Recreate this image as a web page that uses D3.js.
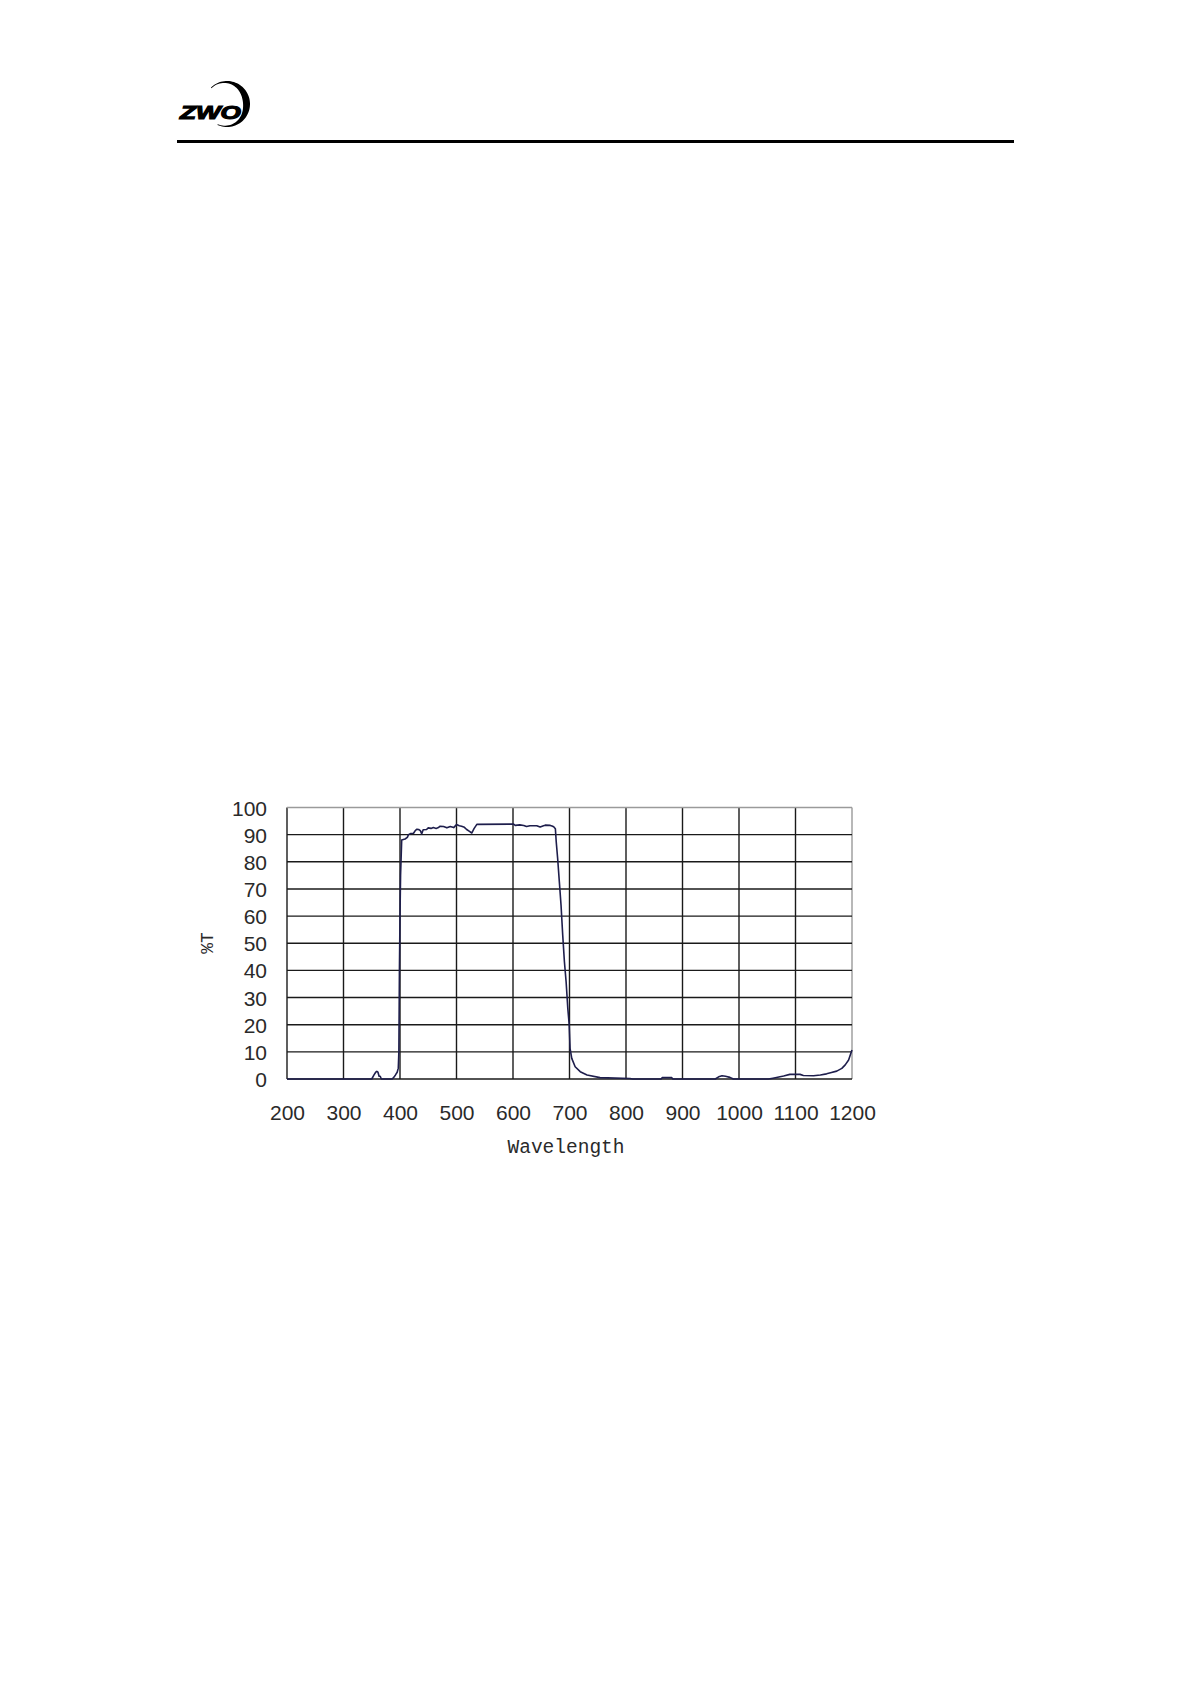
<!DOCTYPE html>
<html>
<head>
<meta charset="utf-8">
<script src="https://cdn.jsdelivr.net/npm/d3@7"></script>
<style>
  html, body { margin: 0; padding: 0; background: #fff; }
  svg { display: block; }
</style>
</head>
<body>
<svg id="chart" width="1192" height="1685"></svg>
<script>
// ---- data ----
const xTicks = [200, 300, 400, 500, 600, 700, 800, 900, 1000, 1100, 1200];
const yTicks = [0, 10, 20, 30, 40, 50, 60, 70, 80, 90, 100];
const xLabel = "Wavelength";
const yLabel = "%T";
const wavelength = [200, 350, 354, 357, 359, 361, 363, 365, 367, 386, 389, 392, 395, 397, 398, 399, 400, 401, 403, 406, 409, 413, 415, 419, 424, 427, 430, 433, 436, 438.5, 441, 447, 450, 455, 459, 464, 468, 471, 477, 483, 489, 495, 500, 505, 509, 514, 518, 523, 527, 531, 536, 601, 604, 612, 619, 624, 630, 642, 648, 654, 657, 666, 669, 672, 675, 676.5, 679, 682, 685, 688, 691, 694, 697, 699.5, 701, 704, 710, 719, 731, 754, 807, 812, 862, 864, 881, 883, 958, 964, 970, 976, 984, 990, 1052, 1060, 1079, 1090, 1108, 1114, 1132, 1144, 1155, 1162, 1173, 1182, 1188, 1194, 1198, 1200];
const transmission = [0, 0, 1.5, 2.5, 2.8, 2.5, 1.0, 1.0, 0, 0, 0.6, 1.5, 2.5, 4, 10, 40, 60, 75, 88, 88.2, 88.4, 89, 90, 90.4, 90.5, 91.5, 92, 91.9, 91.5, 90.3, 91.8, 91.9, 92.5, 92.3, 92.6, 92.3, 92.6, 93.1, 93.0, 92.5, 93.0, 92.6, 93.7, 93.3, 93.1, 92.7, 91.9, 91.2, 90.6, 92.2, 93.8, 93.9, 93.4, 93.6, 93.4, 93.0, 93.3, 93.3, 92.8, 93.3, 93.5, 93.4, 93.2, 92.9, 92.2, 87.4, 81.3, 72.7, 64.1, 53, 43.2, 35.8, 26, 19.9, 11.3, 7.6, 4.5, 2.7, 1.5, 0.5, 0.2, 0, 0, 0.5, 0.5, 0, 0, 0.8, 1.2, 1.0, 0.6, 0, 0, 0.3, 1.1, 1.7, 1.7, 1.3, 1.2, 1.5, 1.9, 2.3, 2.9, 3.9, 5.2, 7.0, 9.5, 10.7];

// ---- drawing ----
const svg = d3.select("#chart");
svg.append("rect").attr("width", 1192).attr("height", 1685).attr("fill", "#fff");

// header: logo + rule
const logo = svg.append("g");
(function () {
  const cx = 227, cy = 104, R = 23;
  const a0 = -2.35, a1 = 2.0;
  const n = 60, outer = [], inner = [];
  for (let i = 0; i <= n; i++) {
    const a = a0 + (a1 - a0) * i / n;
    const t = 0.8 + 6.2 * Math.pow(Math.sin(Math.PI * i / n), 1.5) * (0.55 + 0.45 * Math.cos(a));
    outer.push([cx + R * Math.cos(a), cy + R * Math.sin(a)]);
    inner.push([cx + (R - t) * Math.cos(a), cy + (R - t) * Math.sin(a)]);
  }
  const pts = outer.concat(inner.reverse());
  logo.append("path").attr("d", "M" + pts.map(p => p.join(",")).join("L") + "Z").attr("fill", "#000");
  logo.append("text")
    .attr("transform", "translate(180,119) scale(1.45,1)")
    .attr("font-family", "Liberation Sans, Arial, sans-serif")
    .attr("font-weight", "bold").attr("font-style", "italic")
    .attr("font-size", 18).attr("fill", "#000")
    .attr("stroke", "#000").attr("stroke-width", 1.1)
    .text("ZWO");
})();
svg.append("line").attr("x1", 177).attr("x2", 1014).attr("y1", 141.5).attr("y2", 141.5)
  .attr("stroke", "#000").attr("stroke-width", 3);

const x = d3.scaleLinear().domain([200, 1200]).range([287, 852]);
const y = d3.scaleLinear().domain([0, 100]).range([1079, 807.5]);

const g = svg.append("g");

// gridlines
g.selectAll("line.vg").data(xTicks).join("line").attr("class", "vg")
  .attr("x1", d => x(d)).attr("x2", d => x(d))
  .attr("y1", y(0)).attr("y2", y(100))
  .attr("stroke", d => d === 1200 ? "#9a9a9a" : "#1a1a1a")
  .attr("stroke-width", 1.4);
g.selectAll("line.hg").data(yTicks).join("line").attr("class", "hg")
  .attr("x1", x(200)).attr("x2", x(1200))
  .attr("y1", d => y(d)).attr("y2", d => y(d))
  .attr("stroke", d => d === 100 ? "#9a9a9a" : "#1a1a1a")
  .attr("stroke-width", 1.4);

// curve
const line = d3.line().x((d, i) => x(wavelength[i])).y((d, i) => y(transmission[i]));
g.append("path").datum(transmission)
  .attr("d", line)
  .attr("fill", "none").attr("stroke", "#1e1e4c").attr("stroke-width", 1.6)
  .attr("stroke-linejoin", "round");

// axes (labels only)
const yAxis = svg.append("g").attr("transform", `translate(${x(200) - 20},0)`)
  .call(d3.axisLeft(y).tickValues(yTicks).tickSize(0).tickPadding(0).tickFormat(d3.format("d")));
yAxis.select(".domain").remove();
yAxis.selectAll("text").attr("font-family", "Liberation Sans, Arial, sans-serif").attr("font-size", 21)
  .attr("fill", "#2a2a2a").attr("dy", "0.36em");

const xAxis = svg.append("g").attr("transform", `translate(0,${y(0)})`)
  .call(d3.axisBottom(x).tickValues(xTicks).tickSize(0).tickPadding(0).tickFormat(d3.format("d")));
xAxis.select(".domain").remove();
xAxis.selectAll("text").attr("font-family", "Liberation Sans, Arial, sans-serif").attr("font-size", 21)
  .attr("fill", "#2a2a2a").attr("dy", null).attr("y", 41);

svg.append("text").attr("x", 566).attr("y", 1153).attr("text-anchor", "middle")
  .attr("font-family", "Liberation Mono, monospace").attr("font-size", 19.5).attr("fill", "#2a2a2a")
  .text(xLabel);
svg.append("text").attr("transform", "translate(213,943) rotate(-90)").attr("text-anchor", "middle")
  .attr("font-family", "Liberation Mono, monospace").attr("font-size", 18).attr("fill", "#2a2a2a")
  .text(yLabel);
</script>
</body>
</html>
